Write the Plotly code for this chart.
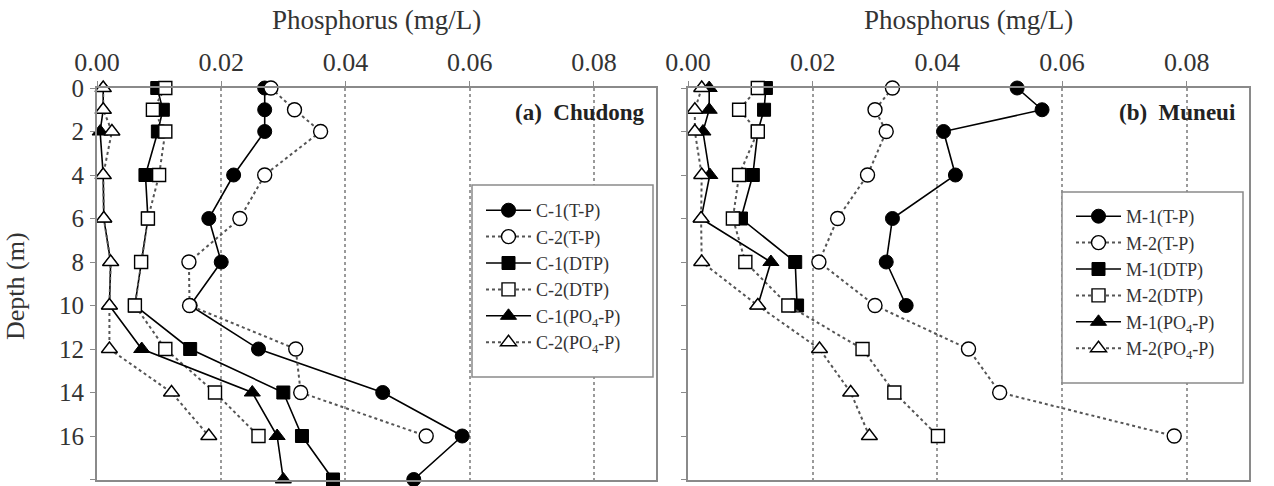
import plotly.graph_objects as go

W, H = 1274, 486
FONT = "Liberation Serif"

# ---------------- data ----------------
depth_c1 = [0, 1, 2, 4, 6, 8, 10, 12, 14, 16, 18]
depth_c2 = [0, 1, 2, 4, 6, 8, 10, 12, 14, 16]
c1_tp = [0.027, 0.027, 0.027, 0.022, 0.018, 0.020, 0.015, 0.026, 0.046, 0.0588, 0.051]
c2_tp = [0.028, 0.0318, 0.036, 0.027, 0.023, 0.0148, 0.0149, 0.032, 0.0328, 0.053]
c1_dtp = [0.0097, 0.0106, 0.0098, 0.0078, 0.0082, 0.0071, 0.0061, 0.015, 0.030, 0.033, 0.038]
c2_dtp = [0.011, 0.009, 0.011, 0.010, 0.0082, 0.0071, 0.0061, 0.011, 0.019, 0.026]
c1_po4 = [0.001, 0.001, 0.0005, 0.001, 0.0011, 0.0022, 0.002, 0.0072, 0.025, 0.029, 0.030]
c2_po4 = [0.001, 0.001, 0.0024, 0.001, 0.0011, 0.0022, 0.002, 0.002, 0.012, 0.018]

depth_m1 = [0, 1, 2, 4, 6, 8, 10]
depth_m2 = [0, 1, 2, 4, 6, 8, 10, 12, 14, 16]
m1_tp = [0.0528, 0.0568, 0.041, 0.0429, 0.0328, 0.0318, 0.035]
m2_tp = [0.0328, 0.030, 0.0318, 0.0288, 0.024, 0.021, 0.030, 0.045, 0.050, 0.078]
m1_dtp = [0.0125, 0.0122, 0.0112, 0.0104, 0.0085, 0.0172, 0.0175]
m2_dtp = [0.0112, 0.0082, 0.0112, 0.0082, 0.0072, 0.0092, 0.0161, 0.028, 0.0331, 0.0401]
m1_po4 = [0.0034, 0.0034, 0.0024, 0.0035, 0.0021, 0.0133, 0.0112]
m2_po4 = [0.0022, 0.0011, 0.0011, 0.0022, 0.0021, 0.0022, 0.0112, 0.0211, 0.0261, 0.0291]

x_ticks = [0.00, 0.02, 0.04, 0.06, 0.08]
x_ticktext = ["0.00", "0.02", "0.04", "0.06", "0.08"]
y_ticks = [0, 2, 4, 6, 8, 10, 12, 14, 16, 18]

# ---------------- helpers ----------------
def px_x(p):
    return p / W

def px_y(p):
    return 1 - p / H

def series(x, y, name, symbol, filled, xa, ya, legend):
    size = 13 if symbol == "square" else 14
    if filled:
        marker = dict(symbol=symbol, size=size, color="black", line=dict(color="black", width=1))
        line = dict(color="black", width=1.6, dash="solid")
    else:
        marker = dict(symbol=symbol, size=size, color="white", line=dict(color="black", width=1.4))
        line = dict(color="#555555", width=2, dash="dot")
    return go.Scatter(x=x, y=y, name=name, mode="lines+markers", marker=marker,
                      line=line, xaxis=xa, yaxis=ya, legend=legend, cliponaxis=False)

fig = go.Figure()
left = [
    (c1_tp, depth_c1, "C-1(T-P)", "circle", True),
    (c2_tp, depth_c2, "C-2(T-P)", "circle", False),
    (c1_dtp, depth_c1, "C-1(DTP)", "square", True),
    (c2_dtp, depth_c2, "C-2(DTP)", "square", False),
    (c1_po4, depth_c1, "C-1(PO<sub>4</sub>-P)", "triangle-up", True),
    (c2_po4, depth_c2, "C-2(PO<sub>4</sub>-P)", "triangle-up", False),
]
right = [
    (m1_tp, depth_m1, "M-1(T-P)", "circle", True),
    (m2_tp, depth_m2, "M-2(T-P)", "circle", False),
    (m1_dtp, depth_m1, "M-1(DTP)", "square", True),
    (m2_dtp, depth_m2, "M-2(DTP)", "square", False),
    (m1_po4, depth_m1, "M-1(PO<sub>4</sub>-P)", "triangle-up", True),
    (m2_po4, depth_m2, "M-2(PO<sub>4</sub>-P)", "triangle-up", False),
]
for x, y, n, s, f in left:
    fig.add_trace(series(x, y, n, s, f, "x", "y", "legend"))
for x, y, n, s, f in right:
    fig.add_trace(series(x, y, n, s, f, "x2", "y2", "legend2"))

ydom = [px_y(479.5), px_y(88)]
axis_common_x = dict(range=[0, 0.09], side="top", tickvals=x_ticks, ticktext=x_ticktext,
                     showgrid=True, gridcolor="#9a9a9a", griddash="dot", gridwidth=1.5,
                     showline=True, linecolor="#8a8a8a", linewidth=2, mirror=True,
                     ticks="outside", ticklen=5, tickcolor="#8a8a8a",
                     tickfont=dict(family=FONT, size=26, color="#333"),
                     zeroline=False, fixedrange=True, automargin=False)
axis_common_y = dict(range=[18, 0], tickvals=y_ticks, showgrid=False,
                     showline=True, linecolor="#8a8a8a", linewidth=2, mirror=True,
                     ticks="outside", ticklen=5, tickcolor="#8a8a8a",
                     showticklabels=False,
                     zeroline=False, fixedrange=True, domain=ydom, automargin=False)

fig.update_layout(
    width=W, height=H, margin=dict(l=0, r=0, t=0, b=0, autoexpand=False),
    paper_bgcolor="white", plot_bgcolor="white",
    xaxis=dict(domain=[px_x(97), px_x(656)], anchor="y", **axis_common_x),
    yaxis=dict(anchor="x", **axis_common_y),
    xaxis2=dict(domain=[px_x(688), px_x(1249)], anchor="y2", **axis_common_x),
    yaxis2=dict(anchor="x2", **axis_common_y),
    # label-only axis for depth tick labels, set a little away from the frame
    yaxis3=dict(overlaying="y", anchor="free", position=px_x(84), side="left",
                range=[18, 0], tickvals=y_ticks, showline=False, ticks="",
                showgrid=False, zeroline=False, fixedrange=True, automargin=False,
                tickfont=dict(family=FONT, size=25, color="#333")),
    legend=dict(x=px_x(481), y=px_y(192), xanchor="left", yanchor="top",
                bgcolor="rgba(0,0,0,0)", borderwidth=0, itemwidth=45,
                font=dict(family=FONT, size=18, color="#333"), tracegroupgap=0),
    legend2=dict(x=px_x(1071), y=px_y(198), xanchor="left", yanchor="top",
                 bgcolor="rgba(0,0,0,0)", borderwidth=0, itemwidth=45,
                 font=dict(family=FONT, size=18, color="#333"), tracegroupgap=0),
    showlegend=True,
)

# dummy invisible trace so the label-only axis is drawn
fig.add_trace(go.Scatter(x=[None], y=[None], yaxis="y3", xaxis="x", showlegend=False,
                         hoverinfo="skip"))

# legend frames
for (x0, x1, y0, y1) in [(472, 653, 185, 377), (1062, 1243, 192, 383)]:
    fig.add_shape(type="rect", xref="paper", yref="paper",
                  x0=px_x(x0), x1=px_x(x1), y0=px_y(y1), y1=px_y(y0),
                  fillcolor="white", line=dict(color="#8a8a8a", width=1.5), layer="above")

for cx in (376, 968):
    fig.add_annotation(text="Phosphorus (mg/L)", x=px_x(cx), y=px_y(20), xref="paper", yref="paper",
                       showarrow=False, xanchor="center", yanchor="middle",
                       font=dict(family=FONT, size=27, color="#333"))
fig.add_annotation(text="<b>(a)  Chudong</b>", x=px_x(647), y=px_y(112), xref="paper", yref="paper",
                   showarrow=False, xanchor="right", yanchor="middle",
                   font=dict(family=FONT, size=23, color="#222"))
fig.add_annotation(text="<b>(b)  Muneui</b>", x=px_x(1238), y=px_y(112), xref="paper", yref="paper",
                   showarrow=False, xanchor="right", yanchor="middle",
                   font=dict(family=FONT, size=23, color="#222"))
fig.add_annotation(text="Depth (m)", x=px_x(15), y=px_y(286), xref="paper", yref="paper",
                   showarrow=False, textangle=-90, xanchor="center", yanchor="middle",
                   font=dict(family=FONT, size=26, color="#333"))

fig.write_html("out.html")
